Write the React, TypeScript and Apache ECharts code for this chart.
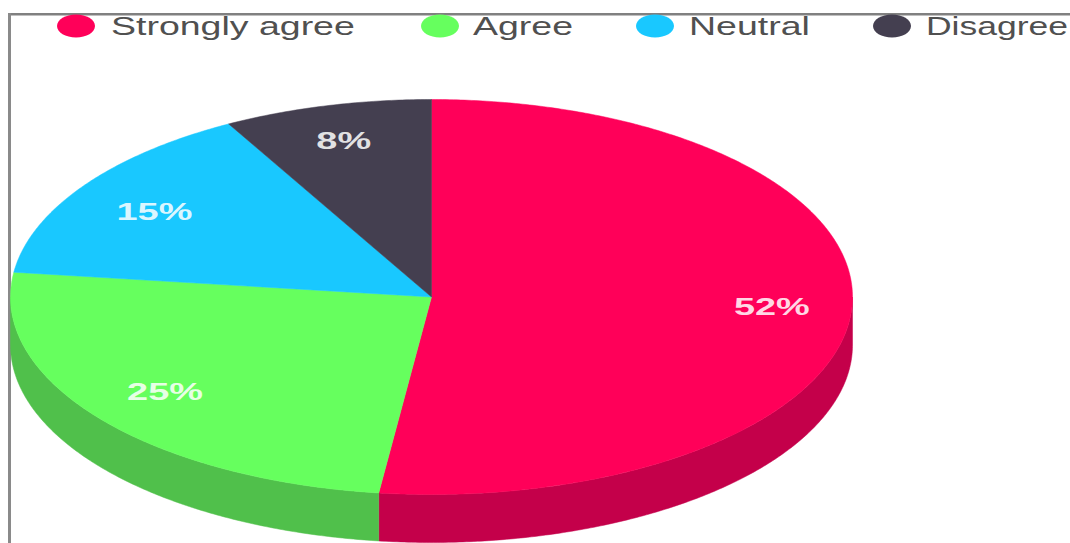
import React, { useEffect, useRef } from "react";
import * as echarts from "echarts";

const categories = ["Strongly agree", "Agree", "Neutral", "Disagree"];
const shares = [52, 25, 15, 8];
const topColors = ["#ff0059", "#66ff5e", "#19c8ff", "#443f50"];
const wallColors = ["#c4004a", "#50c04b", "#1397c2", "#34303d"];
const legendMarkerX = [76, 440, 655, 892];
const legendTextX = [111, 473, 689, 926];
const legendTextScale = [1.5, 1.5, 1.5, 1.42];
const labelNudgeX = [0, 3, 5, -3];
const labelNudgeY = [0, -3, 5, -1];

const CX = 431.5;
const CY = 297;
const RX = 421;
const RY = 197.5;
const DEPTH = 48;
const LABEL_RADIUS = 0.81;
const FONT = '"Liberation Sans", Arial, sans-serif';

const total = shares.reduce((a, b) => a + b, 0);

// Point on the tilted disc's rim; the angle runs clockwise from 12 o'clock.
const rim = (deg: number, k = 1, drop = 0): number[] => {
  const t = (deg * Math.PI) / 180;
  return [CX + RX * k * Math.sin(t), CY - RY * k * Math.cos(t) + drop];
};

const arc = (from: number, to: number, drop = 0): number[][] => {
  const steps = Math.max(2, Math.ceil((to - from) * 2));
  const pts: number[][] = [];
  for (let i = 0; i <= steps; i++) pts.push(rim(from + ((to - from) * i) / steps, 1, drop));
  return pts;
};

const rows = shares.reduce<{ name: string; value: number[] }[]>((acc, share, i) => {
  const start = acc.length ? acc[acc.length - 1].value[2] : 0;
  acc.push({ name: categories[i], value: [share, start, start + (share / total) * 360] });
  return acc;
}, []);

const renderSlice = (params: any, api: any) => {
  const i = params.dataIndex;
  const share = api.value(0);
  const start = api.value(1);
  const end = api.value(2);
  const children: any[] = [];

  // Only the lower half of the rim shows a side wall.
  const wallFrom = Math.max(start, 90);
  const wallTo = Math.min(end, 270);
  if (wallTo > wallFrom) {
    children.push({
      type: "polygon",
      shape: { points: [...arc(wallFrom, wallTo), ...arc(wallFrom, wallTo, DEPTH).reverse()] },
      style: { fill: wallColors[i], stroke: wallColors[i], lineWidth: 0.5 },
    });
  }

  children.push({
    type: "polygon",
    shape: { points: [[CX, CY], ...arc(start, end)] },
    style: { fill: topColors[i], stroke: topColors[i], lineWidth: 0.5 },
  });

  const [lx, ly] = rim((start + end) / 2, LABEL_RADIUS);
  children.push({
    type: "text",
    x: lx + labelNudgeX[i],
    y: ly + labelNudgeY[i],
    scaleX: 1.65,
    z2: 10,
    style: {
      text: `${share}%`,
      fill: "rgba(255,255,255,0.85)",
      font: `bold 23px ${FONT}`,
      textAlign: "center",
      textVerticalAlign: "middle",
    },
  });
  return { type: "group", children };
};

const legendElements = categories.flatMap((name, i) => [
  {
    type: "ellipse",
    shape: { cx: legendMarkerX[i], cy: 26, rx: 19, ry: 11.5 },
    style: { fill: topColors[i] },
  },
  {
    type: "text",
    x: legendTextX[i],
    y: 26,
    scaleX: legendTextScale[i],
    style: {
      text: name,
      fill: "#505050",
      font: `25px ${FONT}`,
      textAlign: "left",
      textVerticalAlign: "middle",
    },
  },
]);

const frameElements = [
  { type: "rect", shape: { x: 8, y: 13, width: 1062, height: 2.5 }, style: { fill: "#808080" } },
  { type: "rect", shape: { x: 8, y: 13, width: 3, height: 530 }, style: { fill: "#8a8a8a" } },
];

export default function App() {
  const ref = useRef<HTMLDivElement>(null);

  useEffect(() => {
    const chart = echarts.init(ref.current!, undefined, { renderer: "svg" });
    chart.setOption({
      animation: false,
      backgroundColor: "#ffffff",
      series: [
        {
          type: "custom",
          coordinateSystem: "none",
          renderItem: renderSlice,
          data: rows,
          silent: true,
        },
      ],
      graphic: { elements: [...frameElements, ...legendElements] },
    });
    return () => chart.dispose();
  }, []);

  return (
    <div
      ref={ref}
      style={{ position: "fixed", left: 0, top: 0, width: 1070, height: 543, overflow: "hidden" }}
    />
  );
}
